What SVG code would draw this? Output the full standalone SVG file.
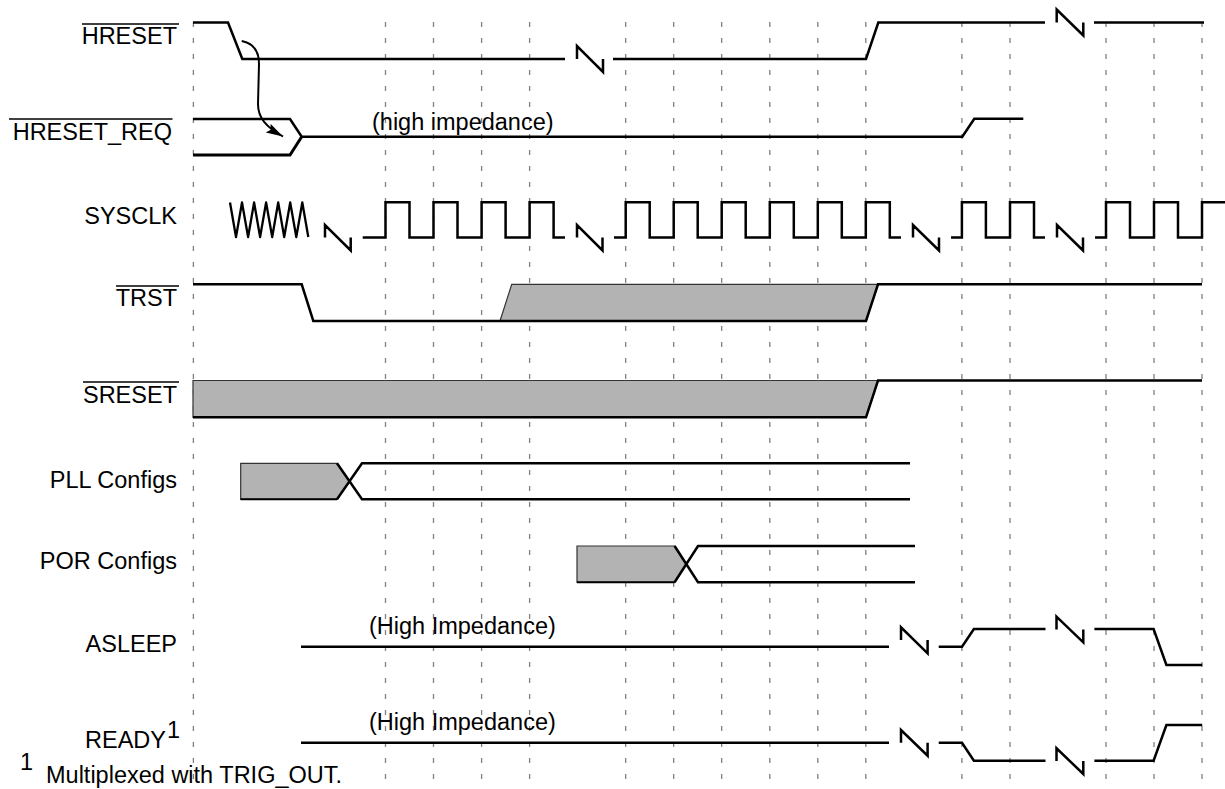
<svg xmlns="http://www.w3.org/2000/svg" width="1225" height="789" viewBox="0 0 1225 789">
<style>
text{font-family:"Liberation Sans",Arial,Helvetica,sans-serif;font-size:23.5px;fill:#000}
.lbl{text-anchor:end}
.sig{fill:none;stroke:#000;stroke-width:2.5;stroke-linejoin:miter;stroke-miterlimit:10}
.thin{fill:none;stroke:#000;stroke-width:2}
.zig{fill:none;stroke:#000;stroke-width:2.3;stroke-linejoin:round}
.grid line{stroke:#808080;stroke-width:1.3;stroke-dasharray:5 11}
.ov{stroke:#000;stroke-width:1.6}
.gray{fill:#b3b3b3;stroke:#333;stroke-width:1.2;stroke-linejoin:miter}
</style>
<defs>
<marker id="ah" markerWidth="18" markerHeight="12" refX="17" refY="5" orient="auto" markerUnits="userSpaceOnUse">
<path d="M0,0 L17,5 L0,10 L3,5 Z" fill="#000"/>
</marker>
</defs>
<rect width="1225" height="789" fill="#fff"/>
<g id="grid" class="grid">
<line x1="193.4" y1="22" x2="193.4" y2="789"/>
<line x1="385.5" y1="22" x2="385.5" y2="789"/>
<line x1="433.5" y1="22" x2="433.5" y2="789"/>
<line x1="481.6" y1="22" x2="481.6" y2="789"/>
<line x1="529.6" y1="22" x2="529.6" y2="789"/>
<line x1="625.7" y1="22" x2="625.7" y2="789"/>
<line x1="673.7" y1="22" x2="673.7" y2="789"/>
<line x1="721.7" y1="22" x2="721.7" y2="789"/>
<line x1="769.8" y1="22" x2="769.8" y2="789"/>
<line x1="817.8" y1="22" x2="817.8" y2="789"/>
<line x1="865.8" y1="22" x2="865.8" y2="789"/>
<line x1="961.9" y1="22" x2="961.9" y2="789"/>
<line x1="1010" y1="22" x2="1010" y2="789"/>
<line x1="1106" y1="22" x2="1106" y2="789"/>
<line x1="1154" y1="22" x2="1154" y2="789"/>
<line x1="1202" y1="22" x2="1202" y2="789"/>
</g>
<g id="hreset">
<text class="lbl" x="177" y="44">HRESET</text>
<line class="ov" x1="82" y1="24" x2="179" y2="24"/>
<path class="sig" d="M193,22.5 H228 L242.3,59 H565 M577,59 V46 L603,72 V59 M613,59 H866 L878.3,22.5 H1045 M1056.7,22.5 V9.5 L1083.3,35.5 V22.5 M1094,22.5 H1204"/>
</g>
<g id="hreset_req">
<text class="lbl" x="172" y="139.5">HRESET_REQ</text>
<line class="ov" x1="9" y1="119" x2="172.5" y2="119"/>
<path class="sig" d="M193,119 H290 L301.7,136.7 H962.3 L974.3,118.7 H1023.3"/>
<path class="sig" style="stroke-width:3" d="M193,155 H290 L301.7,136.7"/>
<text x="372" y="130">(high impedance)</text>
</g>
<g id="sysclk">
<text class="lbl" x="177" y="224">SYSCLK</text>
<path class="zig" d="M230,202.5 L236,237 L242,202.5 L248.1,237 L254.1,202.5 L260.1,237 L266.1,202.5 L272.2,237 L278.2,202.5 L284.2,237 L290.2,202.5 L296.3,237 L302.3,202.5 L308.3,237"/>
<path class="sig" d="M325,237.5 V225 L350.7,250.5 V237.5 M362.7,237.5 H385.5 V202.3 H409.5 V237.5 H433.5 V202.3 H457.5 V237.5 H481.6 V202.3 H505.6 V237.5 H529.6 V202.3 H553.6 V237.5 H565 M577,237.5 V225 L602.5,250.5 V237.5 M614,237.5 H625.7 V202.3 H649.7 V237.5 H673.7 V202.3 H697.7 V237.5 H721.7 V202.3 H745.7 V237.5 H769.8 V202.3 H793.8 V237.5 H817.8 V202.3 H841.8 V237.5 H865.8 V202.3 H889.8 V237.5 H901 M913,237.5 V225 L939,250.5 V237.5 M951,237.5 H961.9 V202.3 H985.9 V237.5 H1010 V202.3 H1034 V237.5 H1045 M1057,237.5 V225 L1083,250.5 V237.5 M1095,237.5 H1106 V202.3 H1130 V237.5 H1154 V202.3 H1178 V237.5 H1202 V202.3 H1225"/>
</g>
<g id="trst">
<text class="lbl" x="177" y="306">TRST</text>
<line class="ov" x1="116" y1="286" x2="179" y2="286"/>
<polygon class="gray" points="500,321 511.7,284.3 878,284.3 866,321"/>
<path class="sig" d="M193,284.3 H301.7 L313.3,321 H866 L878,284.3 H1202"/>
</g>
<g id="sreset">
<text class="lbl" x="177" y="402.5">SRESET</text>
<line class="ov" x1="83" y1="382" x2="179" y2="382"/>
<polygon class="gray" points="193,380.5 878,380.5 866,417.3 193,417.3"/>
<path class="sig" d="M193,417.3 H866 L878,380.5 H1202"/>
</g>
<g id="pll">
<text class="lbl" x="177" y="487.5">PLL Configs</text>
<polygon class="gray" points="240.7,463.3 337,463.3 349.6,481.3 337,499.3 240.7,499.3"/>
<path class="thin" d="M240.7,499.3 H337"/>
<path class="sig" d="M337,463.3 L362,499.3 H910 M337,499.3 L362,463.3 H910"/>
</g>
<g id="por">
<text class="lbl" x="177" y="568.5">POR Configs</text>
<polygon class="gray" points="577,546 674.6,546 686.4,564.2 674.6,582.3 577,582.3"/>
<path class="thin" d="M577,582.3 H674.6"/>
<path class="sig" d="M674.6,546 L698,582.3 H915 M674.6,582.3 L698,546 H915"/>
</g>
<g id="asleep">
<text class="lbl" x="177" y="651.5">ASLEEP</text>
<text x="369" y="633.5">(High Impedance)</text>
<path class="sig" d="M301,646.7 H889 M901,640 V627.3 L927.6,653.3 V640 M938.7,646.7 H962 L973.9,629 H1045.5 M1056.5,629.5 V616.7 L1083.3,642.3 V629.5 M1094.4,629 H1153.6 L1166.4,665 H1202.2"/>
</g>
<g id="ready">
<text class="lbl" x="166" y="747.5">READY</text>
<text x="167" y="738" font-size="15">1</text>
<text x="369" y="729.5">(High Impedance)</text>
<path class="sig" d="M301,742.7 H889 M901,742.8 V730 L927.6,755.7 V742.8 M938.7,742.7 H962 L973.9,760.7 H1045.5 M1056.5,761 V748.3 L1083.3,774 V761 M1094.4,760.7 H1153.6 L1166.4,725 H1202.2"/>
</g>
<g id="footnote">
<text x="20" y="770" font-size="15">1</text>
<text x="46" y="783">Multiplexed with TRIG_OUT.</text>
</g>
<g id="connectors">
<path d="M241.7,41 C252,43 259,50 259,64 L258,104 C258,118 266,127 283,136.5" fill="none" stroke="#000" stroke-width="2" marker-end="url(#ah)"/>
</g>
</svg>
